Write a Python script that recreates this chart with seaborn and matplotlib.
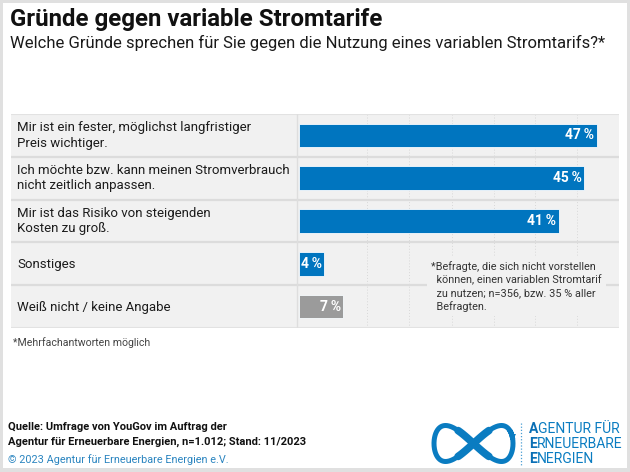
import matplotlib
matplotlib.use("Agg")
import matplotlib.pyplot as plt
import numpy as np
import pandas as pd
import seaborn as sns
from matplotlib.patches import Rectangle

W, H = 630, 472

categories = [
    "Mir ist ein fester, möglichst langfristiger\nPreis wichtiger.",
    "Ich möchte bzw. kann meinen Stromverbrauch\nnicht zeitlich anpassen.",
    "Mir ist das Risiko von steigenden\nKosten zu groß.",
    "Sonstiges",
    "Weiß nicht / keine Angabe",
]
values = [47, 45, 41, 4, 7]
value_labels = ["47\u2009%", "45\u2009%", "41\u2009%", "4\u2009%", "7\u2009%"]
bar_colors = ["#0075bf", "#0075bf", "#0075bf", "#0075bf", "#9b9b9b"]
grid_ticks = [10.7, 17.4, 24.1, 30.7, 37.3, 43.9]

sns.set_theme(style="white")
plt.rcParams["font.family"] = ["Roboto", "DejaVu Sans"]

fig = plt.figure(figsize=(W / 100, H / 100), dpi=100, facecolor="white")


# Pixelposition (von oben links) in Figure-Koordinaten
def fx(x):
    return x / W


def fy(y):
    return 1 - y / H


# grauer Rahmen ums Bild
for x, y, w, h in [(0, 0, W, 3), (0, 0, 3, H), (W - 3, 0, 3, H), (0, H - 4, W, 4)]:
    fig.add_artist(Rectangle((fx(x), fy(y + h)), w / W, h / H, transform=fig.transFigure,
                             color="#e0e0e0", lw=0))

fig.text(fx(10), fy(26), "Gründe gegen variable Stromtarife", fontsize=17.3, fontweight="bold",
         color="#111111", va="baseline")
fig.text(fx(10), fy(48), "Welche Gründe sprechen für Sie gegen die Nutzung eines variablen Stromtarifs?*",
         fontsize=12, color="#1a1a1a", va="baseline")

# Achse = graue Tabelle, 0 % liegt bei x=299 px
left, right, top, bottom = 11, 619, 114, 328
px_per_pct = 6.34
ax = fig.add_axes([fx(left), fy(bottom), (right - left) / W, (bottom - top) / H])
ax.set_facecolor("#f1f1f1")

df = pd.DataFrame({"grund": categories, "wert": values})
sns.barplot(data=df, x="wert", y="grund", hue="grund", palette=bar_colors, legend=False,
            width=0.55, saturation=1, edgecolor="#f8fcff", linewidth=0.6, ax=ax, zorder=3)
ax.set_xlim(-(299 - left) / px_per_pct, (right - 299) / px_per_pct)
ax.set_ylim(4.5, -0.5)
ax.set_xlabel("")
ax.set_ylabel("")
ax.set_xticks([])
ax.set_yticks([])
for s in ax.spines.values():
    s.set_visible(False)

# Zeilentrenner und gepunktetes Raster
for y in np.arange(0.5, 4.5):
    ax.axhline(y, color="#dcdcdc", lw=1.6, zorder=2)
ax.axhline(-0.5, color="#e2e2e2", lw=1.5, zorder=2)
ax.axhline(4.5, color="#e2e2e2", lw=1.5, zorder=2)
ax.axvline(-0.32, color="#dedede", lw=1, zorder=2)
for t in grid_ticks:
    ax.axvline(t, color="#d8d8d8", lw=0.7, ls=(0, (1, 2)), zorder=1)

label_x = -(299 - 17) / px_per_pct
for i, (cat, val, lab) in enumerate(zip(categories, values, value_labels)):
    ax.text(label_x, i if "\n" in cat else i + 0.01, cat, fontsize=9.5, color="#1c1c1c",
            va="center", linespacing=1.22)
    ax.text(val - 0.4, i, lab, fontsize=10, fontweight="bold", color="white", ha="right",
            va="center", zorder=4)

# Fußnote im Diagramm, mit hellem Hintergrund wie im Original
note = ("*Befragte, die sich nicht vorstellen\n"
        "  können, einen variablen Stromtarif\n"
        "  zu nutzen; n=356, bzw. 35 % aller\n"
        "  Befragten.")
ax.text((431 - 299) / px_per_pct, (286.5 - 114) / 42.8 - 0.5, note, fontsize=7.8, color="#333333",
        va="center", linespacing=1.36, zorder=5,
        bbox=dict(facecolor="#f1f1f1", edgecolor="none", pad=3))

fig.text(fx(13), fy(346), "*Mehrfachantworten möglich", fontsize=7.6, color="#444444", va="baseline")
fig.text(fx(8), fy(430), "Quelle: Umfrage von YouGov im Auftrag der", fontsize=8, fontweight="bold",
         color="#111111", va="baseline")
fig.text(fx(8), fy(445), "Agentur für Erneuerbare Energien, n=1.012; Stand: 11/2023", fontsize=8,
         fontweight="bold", color="#111111", va="baseline")
fig.text(fx(8), fy(463), "© 2023 Agentur für Erneuerbare Energien e.V.", fontsize=7.8, color="#2b85c0",
         va="baseline")

# Logo: Unendlichkeitsschleife
logo = fig.add_axes([fx(428), fy(470), 92 / W, 54 / H])
logo.set_xlim(428, 520)
logo.set_ylim(470, 416)
logo.axis("off")
cx, cy = 473.5, 443.5
t = np.linspace(-0.42, 2 * np.pi - 0.12, 400)
lx = cx + 39.5 * np.cos(t)
ly = cy + 36 * np.sin(t) * np.cos(t)
logo.plot(lx, ly, color="#0a7cc1", lw=3.6, solid_capstyle="butt")
for t0 in [np.pi / 2, 3 * np.pi / 2]:
    t = np.linspace(t0 - 0.4, t0 + 0.4, 60)
    logo.plot(cx + 39.5 * np.cos(t), cy + 36 * np.sin(t) * np.cos(t), color="#0a7cc1", lw=5.5,
              solid_capstyle="round")
logo.plot([513], [437], marker="v", ms=5, color="#0a7cc1", mew=0)

fig.add_artist(plt.Line2D([fx(521), fx(521)], [fy(423), fy(465)], color="#4a9fd4", lw=0.9,
                          ls=(0, (1, 1.5))))
logo_lines = [("A", "GENTUR FÜR", 433), ("E", "RNEUERBARE", 448), ("E", "NERGIEN", 463)]
renderer = fig.canvas.get_renderer()
for first, rest, y in logo_lines:
    t1 = fig.text(fx(529), fy(y), first, fontsize=10, fontweight="bold", color="#0a6fb5", va="baseline")
    end = t1.get_window_extent(renderer).x1
    fig.text(end / fig.bbox.width, fy(y), rest, fontsize=10, color="#0a7cc1", va="baseline")

fig.savefig("out.png", dpi=100, facecolor="white")
